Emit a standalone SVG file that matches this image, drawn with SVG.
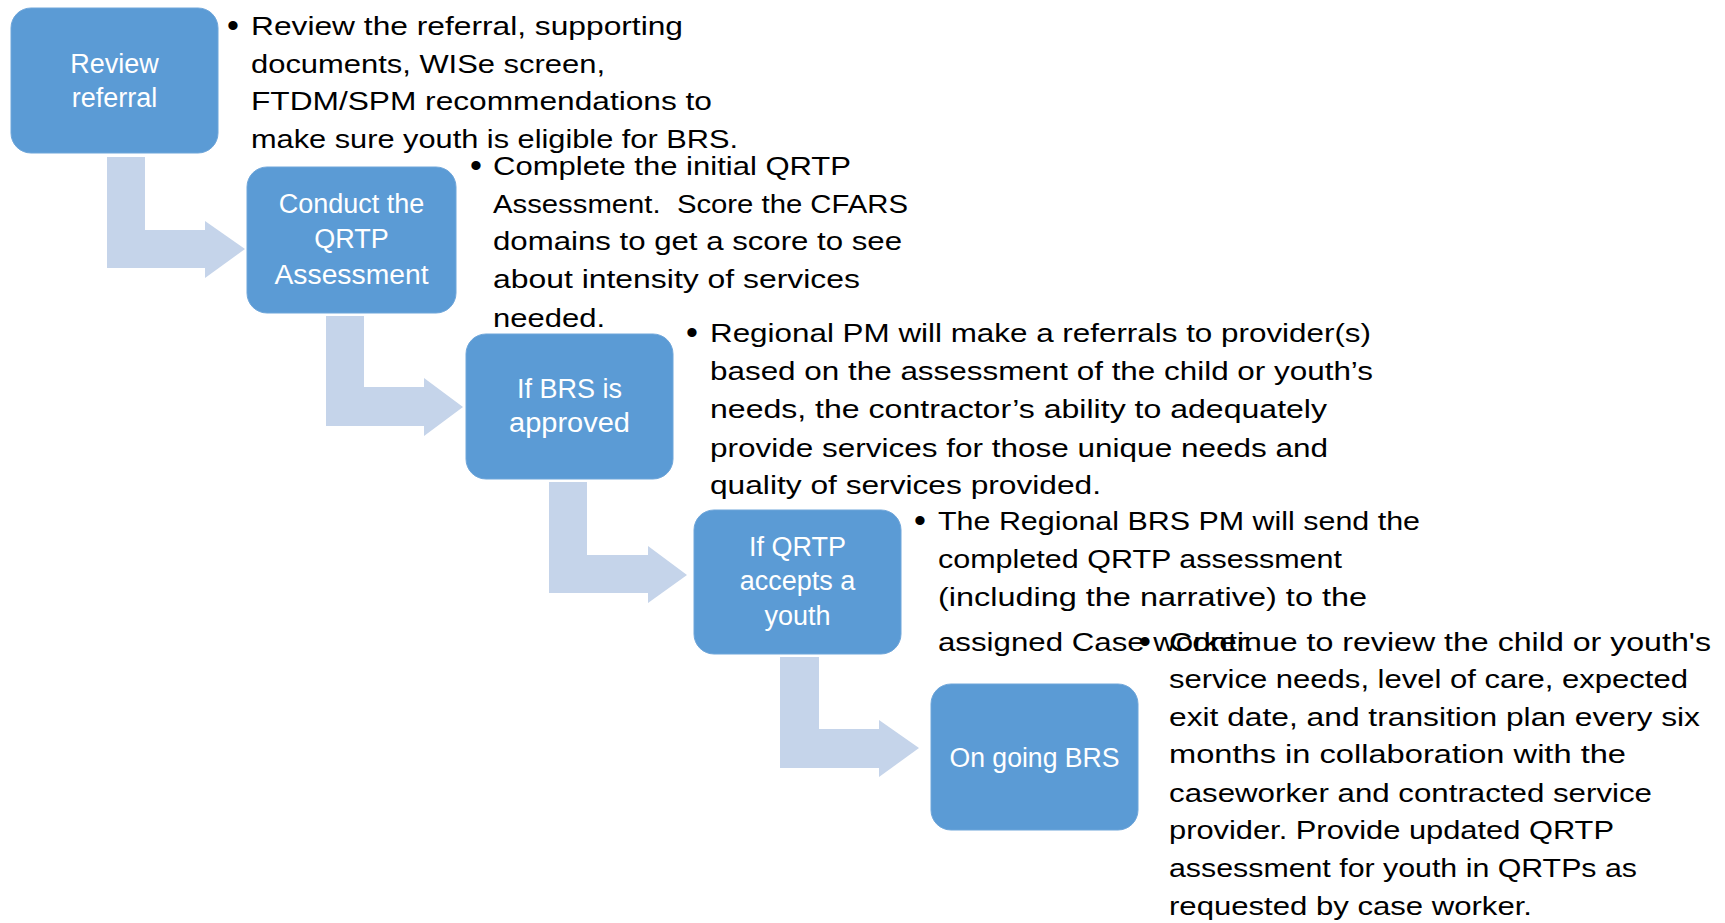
<svg xmlns="http://www.w3.org/2000/svg" width="1725" height="923" viewBox="0 0 1725 923">
<style>
.box{fill:#5B9BD5;stroke:#6FA6DA;stroke-width:1}
.lbl{font-family:"Liberation Sans",Arial,sans-serif;font-size:27px;fill:#FFFFFF;text-anchor:middle}
.txt{font-family:"Liberation Sans",Arial,sans-serif;font-size:26px;fill:#000000}
.bul{font-family:"Liberation Sans",Arial,sans-serif;font-size:34px;fill:#000000}
.arr{fill:#C5D4EA}
</style>
<rect width="1725" height="923" fill="#FFFFFF"/>
<g id="connectors">
<path class="arr" d="M107,157 H145 V230 H205 V221 L245,249 L205,278 V268 H107 Z"/>
<path class="arr" d="M326,316 H364 V387 H424 V378 L463,407 L424,436 V426 H326 Z"/>
<path class="arr" d="M549,482 H587 V555 H648 V546 L687,575 L648,603 V593 H549 Z"/>
<path class="arr" d="M780,657 H819 V729 H879 V720 L919,748 L879,777 V768 H780 Z"/>
</g>
<g id="node1">
<rect class="box" x="11" y="8" width="207" height="145" rx="20"/>
<text class="lbl" x="114.5" y="73">Review</text>
<text class="lbl" x="114.5" y="107">referral</text>
<text class="bul" x="227" y="37">•</text>
<text class="txt" x="251" y="35" textLength="432" lengthAdjust="spacingAndGlyphs">Review the referral, supporting</text>
<text class="txt" x="251" y="73" textLength="354" lengthAdjust="spacingAndGlyphs">documents, WISe screen,</text>
<text class="txt" x="251" y="110" textLength="461" lengthAdjust="spacingAndGlyphs">FTDM/SPM recommendations to</text>
<text class="txt" x="251" y="148" textLength="487" lengthAdjust="spacingAndGlyphs">make sure youth is eligible for BRS.</text>
</g>
<g id="node2">
<rect class="box" x="247" y="167" width="209" height="146" rx="20"/>
<text class="lbl" x="351.5" y="213">Conduct the</text>
<text class="lbl" x="351.5" y="248">QRTP</text>
<text class="lbl" x="351.5" y="284" textLength="154" lengthAdjust="spacingAndGlyphs">Assessment</text>
<text class="bul" x="470" y="177">•</text>
<text class="txt" x="493" y="175" textLength="358" lengthAdjust="spacingAndGlyphs">Complete the initial QRTP</text>
<text class="txt" x="493" y="213" textLength="415" lengthAdjust="spacingAndGlyphs" xml:space="preserve">Assessment.  Score the CFARS</text>
<text class="txt" x="493" y="250" textLength="409" lengthAdjust="spacingAndGlyphs">domains to get a score to see</text>
<text class="txt" x="493" y="288" textLength="367" lengthAdjust="spacingAndGlyphs">about intensity of services</text>
<text class="txt" x="493" y="327" textLength="112" lengthAdjust="spacingAndGlyphs">needed.</text>
</g>
<g id="node3">
<rect class="box" x="466" y="334" width="207" height="145" rx="20"/>
<text class="lbl" x="569.5" y="398">If BRS is</text>
<text class="lbl" x="569.5" y="432" textLength="121" lengthAdjust="spacingAndGlyphs">approved</text>
<text class="bul" x="686" y="344">•</text>
<text class="txt" x="710" y="342" textLength="661" lengthAdjust="spacingAndGlyphs">Regional PM will make a referrals to provider(s)</text>
<text class="txt" x="710" y="380" textLength="663" lengthAdjust="spacingAndGlyphs">based on the assessment of the child or youth’s</text>
<text class="txt" x="710" y="418" textLength="617" lengthAdjust="spacingAndGlyphs">needs, the contractor’s ability to adequately</text>
<text class="txt" x="710" y="457" textLength="618" lengthAdjust="spacingAndGlyphs">provide services for those unique needs and</text>
<text class="txt" x="710" y="494" textLength="391" lengthAdjust="spacingAndGlyphs">quality of services provided.</text>
</g>
<g id="node4">
<rect class="box" x="694" y="510" width="207" height="144" rx="20"/>
<text class="lbl" x="797.5" y="556">If QRTP</text>
<text class="lbl" x="797.5" y="590">accepts a</text>
<text class="lbl" x="797.5" y="625">youth</text>
<text class="bul" x="914" y="532">•</text>
<text class="txt" x="938" y="530" textLength="482" lengthAdjust="spacingAndGlyphs">The Regional BRS PM will send the</text>
<text class="txt" x="938" y="568" textLength="404" lengthAdjust="spacingAndGlyphs">completed QRTP assessment</text>
<text class="txt" x="938" y="606" textLength="429" lengthAdjust="spacingAndGlyphs">(including the narrative) to the</text>
<text class="txt" x="938" y="651" textLength="316" lengthAdjust="spacingAndGlyphs">assigned Case worker.</text>
</g>
<g id="node5">
<rect class="box" x="931" y="684" width="207" height="146" rx="20"/>
<text class="lbl" x="1034.5" y="767" textLength="170" lengthAdjust="spacingAndGlyphs">On going BRS</text>
<text class="bul" x="1139" y="653">•</text>
<text class="txt" x="1169" y="651" textLength="542" lengthAdjust="spacingAndGlyphs">Continue to review the child or youth's</text>
<text class="txt" x="1169" y="688" textLength="519" lengthAdjust="spacingAndGlyphs">service needs, level of care, expected</text>
<text class="txt" x="1169" y="726" textLength="531" lengthAdjust="spacingAndGlyphs">exit date, and transition plan every six</text>
<text class="txt" x="1169" y="763" textLength="457" lengthAdjust="spacingAndGlyphs">months in collaboration with the</text>
<text class="txt" x="1169" y="802" textLength="483" lengthAdjust="spacingAndGlyphs">caseworker and contracted service</text>
<text class="txt" x="1169" y="839" textLength="445" lengthAdjust="spacingAndGlyphs">provider. Provide updated QRTP</text>
<text class="txt" x="1169" y="877" textLength="468" lengthAdjust="spacingAndGlyphs">assessment for youth in QRTPs as</text>
<text class="txt" x="1169" y="915" textLength="363" lengthAdjust="spacingAndGlyphs">requested by case worker.</text>
</g>
</svg>
